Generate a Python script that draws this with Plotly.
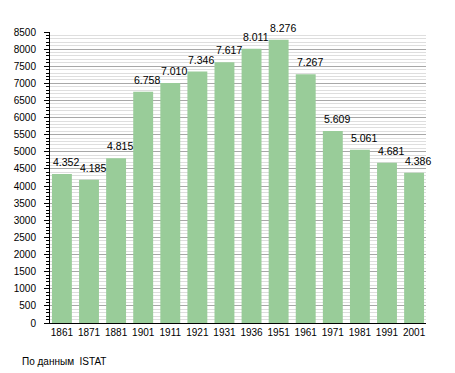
import plotly.graph_objects as go

years = ["1861", "1871", "1881", "1901", "1911", "1921", "1931", "1936",
         "1951", "1961", "1971", "1981", "1991", "2001"]
population = [4352, 4185, 4815, 6758, 7010, 7346, 7617, 8011,
              8276, 7267, 5609, 5061, 4681, 4386]
y_ticks = list(range(0, 8501, 500))
source_note = "По данным\u00a0\u00a0ISTAT"

labels = [f"{v:,}".replace(",", ".") for v in population]

font_family = "Liberation Sans, Arial, sans-serif"
BAR_W = 0.735

fig = go.Figure(go.Bar(
    x=years,
    y=population,
    marker=dict(color="#99cc99", line=dict(width=0)),
    width=BAR_W,
    cliponaxis=False,
    hoverinfo="x+y",
))

# page body has an 8px margin; compensate so the plot lands where the reference has it
OFF = 8
W, H = 455 - OFF, 373 - OFF
plot_left, plot_right, plot_top, plot_bottom = 50, 426, 32, 323.5
ml = plot_left - OFF
mt = plot_top - OFF
mr = (OFF + W) - plot_right
mb = (OFF + H) - plot_bottom
pw = plot_right - plot_left
ph = plot_bottom - plot_top
x_range = [-0.44, 13.44]

# value labels: left-aligned at each bar's left edge, just above the bar
# (category axis: annotation x is the category's index position)
annotations = [
    dict(
        x=i - BAR_W / 2, y=val, xref="x", yref="y",
        text=lab, showarrow=False,
        xanchor="left", yanchor="bottom",
        xshift=-1, yshift=4,
        font=dict(size=10.5, color="#000000", family=font_family),
    )
    for i, (val, lab) in enumerate(zip(population, labels))
]
annotations.append(dict(
    text=source_note,
    xref="paper", yref="paper",
    x=(20 - plot_left) / pw, y=-(361.7 - plot_bottom) / ph,
    xanchor="left", yanchor="middle",
    showarrow=False,
    font=dict(size=10, color="#000000", family=font_family),
))

fig.update_layout(
    width=W, height=H,
    margin=dict(l=ml, r=mr, t=mt, b=mb, pad=0, autoexpand=False),
    paper_bgcolor="white",
    plot_bgcolor="white",
    showlegend=False,
    font=dict(family=font_family, size=10, color="#000000"),
    xaxis=dict(
        type="category",
        range=x_range,
        automargin=False,
        showline=True, linecolor="#000000", linewidth=1,
        ticks="", showgrid=False,
        tickfont=dict(size=10),
        fixedrange=True,
    ),
    yaxis=dict(
        range=[0, 8500],
        automargin=False,
        tickvals=y_ticks,
        ticktext=[str(v) for v in y_ticks],
        showline=True, linecolor="#000000", linewidth=1,
        ticks="outside", ticklen=5, tickcolor="#000000", tickwidth=1,
        showgrid=True, gridcolor="#a8a8a8", gridwidth=1,
        zeroline=False,
        ticklabelstandoff=6,
        tickfont=dict(size=10),
        minor=dict(dtick=100, ticks="outside", ticklen=3, tickcolor="#000000",
                   showgrid=True, gridcolor="#dedede", gridwidth=1),
        fixedrange=True,
    ),
    annotations=annotations,
)

fig.write_html("out.html")
